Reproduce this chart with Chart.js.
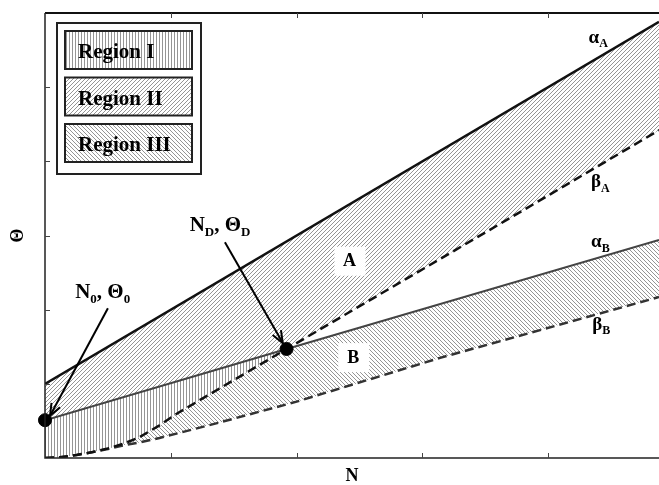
<!DOCTYPE html>
<html>
<head>
<meta charset="utf-8">
<script src="https://cdn.jsdelivr.net/npm/chart.js@4.4.1/dist/chart.umd.min.js"></script>
<style>
  html, body { margin: 0; padding: 0; background: #fff; }
  #wrap { width: 659px; height: 485px; }
</style>
</head>
<body>
<div id="wrap"><canvas id="phaseChart" width="659" height="485"></canvas></div>
<script>
// values, N along x and Θ up the side, in tick units
const ndX = 1.92;

const alphaAX = [0, 4.88];
const alphaAY = [1.0, 5.88];

const alphaBX = [0, 1.92, 4.88];
const alphaBY = [0.51, 1.47, 2.94];

const betaAX = [0, 0.12, 0.25, 0.38, 0.5, 0.62, 0.75, 0.91, 1.05, 1.2, 1.39, 1.92, 3.7, 4.88];
const betaAY = [0, 0.01, 0.04, 0.08, 0.13, 0.19, 0.28, 0.44, 0.6, 0.75, 0.94, 1.47, 3.24, 4.42];

const betaBX = [0, 0.12, 0.25, 0.38, 0.5, 0.62, 0.75, 0.91, 1.39, 2.0, 3.14, 4.88];
const betaBY = [0, 0.01, 0.04, 0.08, 0.12, 0.17, 0.21, 0.27, 0.48, 0.76, 1.35, 2.17];

const markX = [0, 1.92];
const markY = [0.51, 1.47];

const xTicks = [1, 2, 3, 4];
const yTicks = [1, 2, 3, 4, 5];
const regionNames = ['Region I', 'Region II', 'Region III'];

function pts(xs, ys) {
  return xs.map((x, i) => ({ x: x, y: ys[i] }));
}

const aA = pts(alphaAX, alphaAY);
const aB = pts(alphaBX, alphaBY);
const bA = pts(betaAX, betaAY);
const bB = pts(betaBX, betaBY);
const left = p => p.x <= ndX;
const right = p => p.x >= ndX;

// closed outlines of the three shaded regions
const region1 = aB.filter(left).concat(bA.filter(left).reverse());
const region2 = aA.concat(bA.filter(right).reverse(), aB.filter(left).reverse());
const region3 = bA.filter(left).concat(aB.filter(p => p.x > ndX), bB.slice().reverse());

const canvas = document.getElementById('phaseChart');
const ctx = canvas.getContext('2d');

function hatch(kind) {
  const n = kind === '|' ? 3 : 4;
  const c = document.createElement('canvas');
  c.width = n; c.height = n;
  const g = c.getContext('2d');
  g.fillStyle = '#fff';
  g.fillRect(0, 0, n, n);
  g.fillStyle = '#959595';
  for (let i = 0; i < n; i++) {
    if (kind === '|') g.fillRect(0, i, 1, 1);
    else if (kind === '/') g.fillRect(i, n - 1 - i, 1, 1);
    else g.fillRect(i, i, 1, 1);
  }
  return ctx.createPattern(c, 'repeat');
}
const patterns = [hatch('|'), hatch('/'), hatch('\\')];

const serif = '"Liberation Serif", "DejaVu Serif", serif';

function richText(c, parts, x, y, size) {
  let cx = x;
  c.textAlign = 'left';
  c.textBaseline = 'alphabetic';
  for (const [t, sub] of parts) {
    const s = sub ? Math.round(size * 0.64) : size;
    c.font = 'bold ' + s + 'px ' + serif;
    c.fillText(t, cx, sub ? y + size * 0.25 : y);
    cx += c.measureText(t).width;
  }
}

function arrow(c, x1, y1, x2, y2) {
  c.beginPath();
  c.moveTo(x1, y1);
  c.lineTo(x2, y2);
  c.stroke();
  const a = Math.atan2(y2 - y1, x2 - x1), L = 13, w = 0.38;
  c.beginPath();
  c.moveTo(x2 - L * Math.cos(a - w), y2 - L * Math.sin(a - w));
  c.lineTo(x2, y2);
  c.lineTo(x2 - L * Math.cos(a + w), y2 - L * Math.sin(a + w));
  c.stroke();
}

// annotation positions in data units
const curveLabels = [
  { parts: [['α', 0], ['A', 1]], x: 4.32, y: 5.60, size: 19 },
  { parts: [['β', 0], ['A', 1]], x: 4.34, y: 3.65, size: 19 },
  { parts: [['α', 0], ['B', 1]], x: 4.34, y: 2.84, size: 19 },
  { parts: [['β', 0], ['B', 1]], x: 4.35, y: 1.73, size: 19 },
  { parts: [['N', 0], ['0', 1], [', Θ', 0], ['0', 1]], x: 0.24, y: 2.16, size: 21 },
  { parts: [['N', 0], ['D', 1], [', Θ', 0], ['D', 1]], x: 1.15, y: 3.06, size: 21 }
];
const boxLabels = [
  { text: 'A', x: 2.42, y: 2.66 },
  { text: 'B', x: 2.45, y: 1.36 }
];
const arrows = [
  { from: [0.50, 2.02], to: [0.04, 0.57] },
  { from: [1.43, 2.91], to: [1.89, 1.55] }
];

const decor = {
  id: 'decor',
  afterDatasetsDraw(chart) {
    const c = chart.ctx;
    const { left, top, right, bottom } = chart.chartArea;
    const xs = chart.scales.x, ys = chart.scales.y;
    c.save();

    // frame, right side is cut off in the original
    c.strokeStyle = '#111';
    c.lineWidth = 2;
    c.beginPath(); c.moveTo(left, top); c.lineTo(right + 2, top); c.stroke();
    c.lineWidth = 1.5;
    c.strokeStyle = '#222';
    c.beginPath(); c.moveTo(left, top); c.lineTo(left, bottom); c.lineTo(right + 2, bottom); c.stroke();

    // inward ticks
    c.lineWidth = 1;
    c.strokeStyle = '#444';
    xTicks.forEach(v => {
      const px = Math.round(xs.getPixelForValue(v)) + 0.5;
      c.beginPath();
      c.moveTo(px, bottom); c.lineTo(px, bottom - 5);
      c.moveTo(px, top); c.lineTo(px, top + 5);
      c.stroke();
    });
    yTicks.forEach(v => {
      const py = Math.round(ys.getPixelForValue(v)) + 0.5;
      c.beginPath();
      c.moveTo(left, py); c.lineTo(left + 5, py);
      c.stroke();
    });

    // A / B tags
    boxLabels.forEach(b => {
      const px = xs.getPixelForValue(b.x), py = ys.getPixelForValue(b.y);
      c.fillStyle = '#fff';
      c.fillRect(px - 15, py - 14, 31, 29);
      c.fillStyle = '#000';
      c.font = 'bold 18px ' + serif;
      c.textAlign = 'center';
      c.textBaseline = 'middle';
      c.fillText(b.text, px, py + 1);
    });

    c.fillStyle = '#000';
    curveLabels.forEach(l => {
      richText(c, l.parts, xs.getPixelForValue(l.x), ys.getPixelForValue(l.y), l.size);
    });

    c.strokeStyle = '#000';
    c.lineWidth = 2;
    arrows.forEach(a => {
      arrow(c, xs.getPixelForValue(a.from[0]), ys.getPixelForValue(a.from[1]),
        xs.getPixelForValue(a.to[0]), ys.getPixelForValue(a.to[1]));
    });

    // legend
    const lx = left + 12, ly = top + 10;
    c.fillStyle = '#fff';
    c.fillRect(lx, ly, 144, 151);
    c.strokeStyle = '#222';
    c.lineWidth = 2;
    c.strokeRect(lx, ly, 144, 151);
    regionNames.forEach((name, i) => {
      const bx = lx + 8, by = ly + 8 + i * 46.5;
      c.fillStyle = patterns[i];
      c.fillRect(bx, by, 127, 38);
      c.strokeStyle = '#222';
      c.lineWidth = 2;
      c.strokeRect(bx, by, 127, 38);
      c.fillStyle = '#000';
      c.font = 'bold 21px ' + serif;
      c.textAlign = 'left';
      c.textBaseline = 'alphabetic';
      c.fillText(name, bx + 13, by + 27);
    });

    c.restore();
  }
};

const areaStyle = { borderColor: 'transparent', borderWidth: 0, pointRadius: 0, fill: 'shape', order: 10 };

new Chart(ctx, {
  type: 'line',
  data: {
    datasets: [
      Object.assign({ label: regionNames[0], data: region1, backgroundColor: patterns[0] }, areaStyle),
      Object.assign({ label: regionNames[1], data: region2, backgroundColor: patterns[1] }, areaStyle),
      Object.assign({ label: regionNames[2], data: region3, backgroundColor: patterns[2] }, areaStyle),
      { label: 'αA', data: aA, borderColor: '#111', borderWidth: 2.5, pointRadius: 0, fill: false, order: 5 },
      { label: 'αB', data: aB, borderColor: '#444', borderWidth: 2, pointRadius: 0, fill: false, order: 5 },
      { label: 'βA', data: bA, borderColor: '#111', borderWidth: 2.5, borderDash: [9, 5], pointRadius: 0, fill: false, order: 5 },
      { label: 'βB', data: bB, borderColor: '#333', borderWidth: 2.5, borderDash: [9, 5], pointRadius: 0, fill: false, order: 5 },
      { label: 'points', data: pts(markX, markY), showLine: false, pointRadius: 6.5,
        pointBackgroundColor: '#000', pointBorderColor: '#000', clip: false, order: 0 }
    ]
  },
  options: {
    responsive: false,
    animation: false,
    events: [],
    layout: { autoPadding: false, padding: { left: 3, top: 13, right: 0, bottom: 0 } },
    plugins: { legend: { display: false }, tooltip: { enabled: false } },
    scales: {
      x: {
        type: 'linear', min: 0, max: 4.88,
        grid: { display: false }, border: { display: false },
        ticks: { display: false },
        title: { display: true, text: 'N', color: '#000', padding: 0,
          font: { family: serif, weight: 'bold', size: 18, lineHeight: 1 } },
        afterFit: s => { s.height = 27; }
      },
      y: {
        type: 'linear', min: 0, max: 6,
        grid: { display: false }, border: { display: false },
        ticks: { display: false },
        title: { display: true, text: 'Θ', color: '#000', padding: { top: 6, bottom: 0 },
          font: { family: serif, weight: 'bold', size: 18, lineHeight: 1 } },
        afterFit: s => { s.width = 42; }
      }
    }
  },
  plugins: [decor]
});
</script>
</body>
</html>
